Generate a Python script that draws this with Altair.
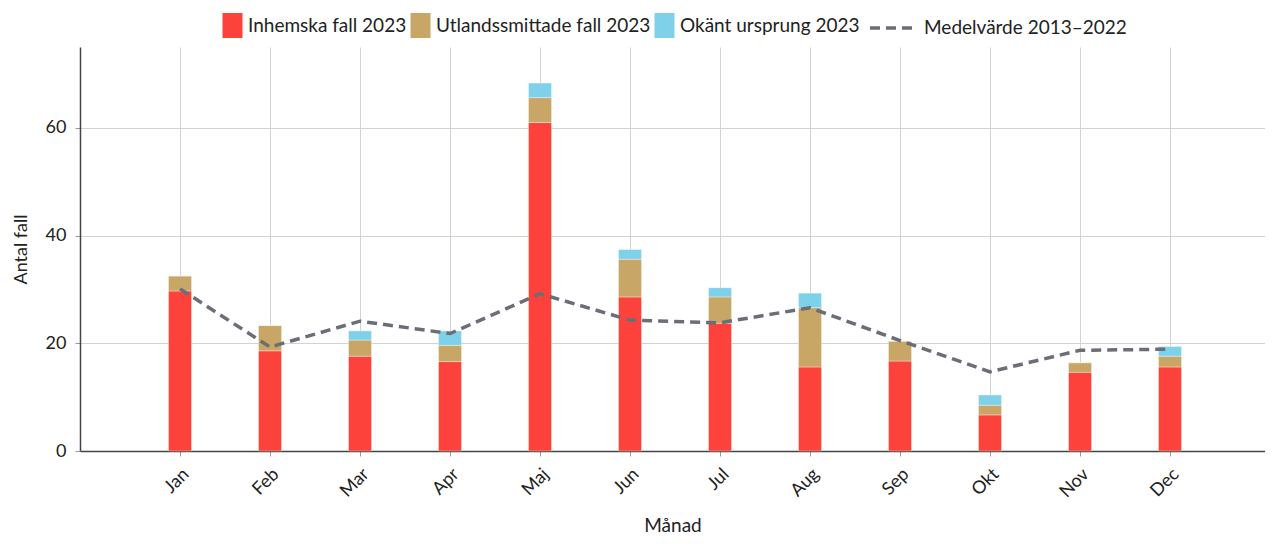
import altair as alt
import pandas as pd

months = ["Jan", "Feb", "Mar", "Apr", "Maj", "Jun", "Jul", "Aug", "Sep", "Okt", "Nov", "Dec"]
inhemska = [29.7, 18.6, 17.6, 16.6, 61.0, 28.6, 23.7, 15.6, 16.7, 6.7, 14.6, 15.6]
utlands = [2.8, 4.7, 3.0, 3.0, 4.6, 7.0, 4.9, 11.0, 3.7, 1.8, 1.8, 2.0]
okant = [0.0, 0.0, 1.7, 2.7, 2.7, 1.8, 1.7, 2.7, 0.0, 1.9, 0.0, 1.8]
medel = [30.1, 19.3, 24.1, 21.8, 29.2, 24.3, 23.8, 26.6, 20.5, 14.7, 18.7, 18.9]

series = ["Inhemska fall 2023", "Utlandssmittade fall 2023", "Okänt ursprung 2023"]
colors = ["#fc423a", "#c7a666", "#7fd1ea"]
line_label = "Medelvärde 2013–2022"

rows = []
for i, m in enumerate(months):
    for k, (s, vals) in enumerate(zip(series, [inhemska, utlands, okant])):
        rows.append({"Månad": m, "Serie": s, "Antal": vals[i], "ordning": k})
bars_df = pd.DataFrame(rows)
line_df = pd.DataFrame({"Månad": months, "Antal": medel, "Serie": [line_label] * len(months)})

FONT = "Lato"

x_enc = alt.X(
    "Månad:N",
    sort=months,
    scale=alt.Scale(paddingInner=0, paddingOuter=0.5833, align=0.524),
    axis=alt.Axis(
        title="Månad",
        labelAngle=-45,
        labelFontSize=18,
        labelColor="#222222",
        titleFontSize=19,
        titleFontWeight="normal",
        titleColor="#222222",
        titlePadding=16,
        grid=True,
        gridColor="#d3d3d3",
        bandPosition=0.5,
        tickColor="#999999",
        tickSize=5,
        labelPadding=9,
        domainColor="#444444",
        domainWidth=1.5,
    ),
)

y_scale = alt.Scale(domain=[0, 75], nice=False)
y_axis = alt.Axis(
    title="Antal fall",
    values=[0, 20, 40, 60],
    labelFontSize=18,
    labelColor="#222222",
    titleFontSize=18,
    titleFontWeight="normal",
    titleColor="#222222",
    titlePadding=15,
    gridColor="#d3d3d3",
    tickColor="#999999",
    tickSize=5,
    labelPadding=9,
    domainColor="#444444",
    domainWidth=1.5,
)

bars = alt.Chart(bars_df).mark_bar(size=23, stroke="white", strokeWidth=1, strokeOpacity=0.35).encode(
    x=x_enc,
    y=alt.Y("sum(Antal):Q", stack="zero", scale=y_scale, axis=y_axis),
    color=alt.Color(
        "Serie:N",
        scale=alt.Scale(domain=series, range=colors),
        legend=alt.Legend(
            title=None,
            orient="none",
            legendX=140,
            legendY=-34,
            direction="horizontal",
            columns=3,
            symbolType="M-0.8,-1H0.8V1H-0.8Z",
            symbolSize=625,
            symbolStrokeWidth=0,
            labelFontSize=19,
            labelColor="#222222",
            labelFont=FONT,
            labelOffset=3,
            columnPadding=1,
            padding=0,
            labelLimit=400,
        ),
    ),
    order=alt.Order("ordning:Q", sort="ascending"),
)

line = alt.Chart(line_df).mark_line(color="#6b6e76", strokeWidth=3.5).encode(
    x=alt.X("Månad:N", sort=months),
    y=alt.Y("Antal:Q", scale=y_scale),
    strokeDash=alt.StrokeDash(
        "Serie:N",
        scale=alt.Scale(domain=[line_label], range=[[10, 6]]),
        legend=alt.Legend(
            title=None,
            orient="none",
            legendX=788,
            legendY=-42,
            symbolType="stroke",
            symbolSize=1764,
            symbolStrokeWidth=3.5,
            symbolStrokeColor="#6b6e76",
            labelFontSize=19,
            labelColor="#222222",
            labelFont=FONT,
            labelOffset=10,
            padding=0,
            labelLimit=400,
        ),
    ),
)

chart = (
    alt.layer(bars, line)
    .resolve_scale(color="independent", strokeDash="independent")
    .properties(
        width=1185,
        height=404,
        autosize=alt.AutoSizeParams(type="none"),
        padding={"left": 72, "top": 39, "right": 0, "bottom": 87},
    )
    .configure(font=FONT)
    .configure_view(strokeWidth=0)
)

chart.save("out.html", embed_options={"renderer": "svg", "actions": False})
